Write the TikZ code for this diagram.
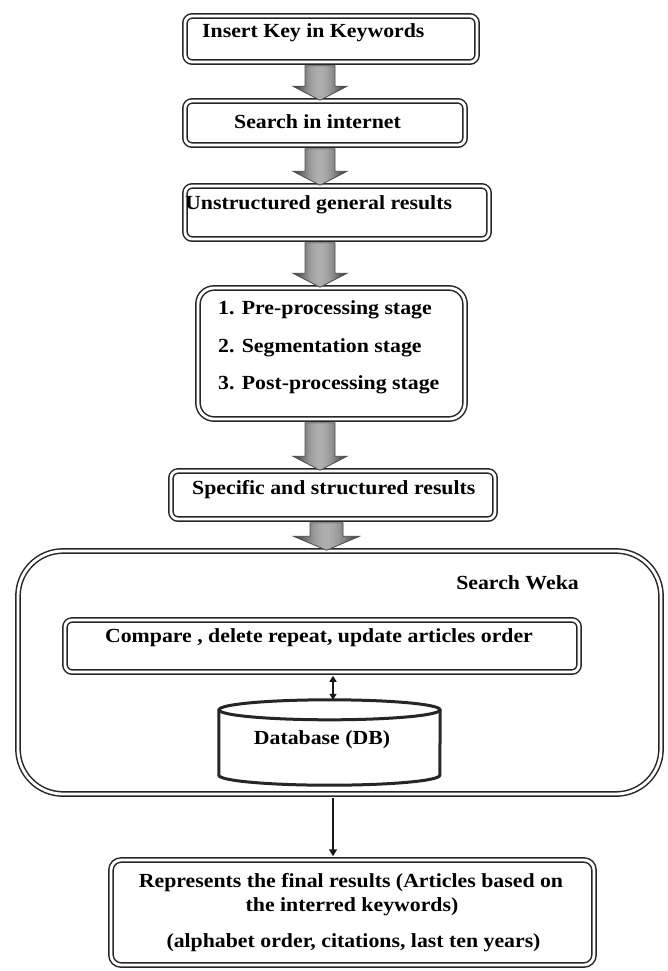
\documentclass[tikz,border=0pt]{standalone}
\usepackage{fontspec}
\setmainfont{Liberation Serif}[FakeStretch=1.09]
\usetikzlibrary{calc,arrows.meta}
\begin{document}
\begin{tikzpicture}[x=1pt,y=-1pt,
  dbox/.style={draw=black!85, double=white, double distance=2.8pt, line width=1.5pt, fill=white, inner sep=0pt, rounded corners=#1},
  dbox/.default=7pt,
  lbl/.style={font=\fontsize{20}{24}\selectfont\bfseries, inner sep=0pt, anchor=west},
  clbl/.style={font=\fontsize{20}{24}\selectfont\bfseries, inner sep=0pt},
  blkedge/.style={draw=black!70, line width=0.8pt},
  thin arrow/.style={line width=1.6pt, black!90},
  cyl/.style={line width=3pt, black!85},
]
\useasboundingbox (0,0) rectangle (668,971);
\newcommand\blkpath[5]{let \p1=(#1.south), \p2=(#2.north) in
    (#3-#4,\y1-3pt) -- (#3+#4,\y1-3pt) -- (#3+#4,\y2+14pt) -- (#3+#5,\y2+14pt)
    -- (#3,\y2) -- (#3-#5,\y2+14pt) -- (#3-#4,\y2+14pt) -- cycle}
\newcommand\blockarr[5]{%
  \begin{scope}
    \path[clip] \blkpath{#1}{#2}{#3}{#4}{#5};
    \foreach \i in {0,...,39}{%
      \pgfmathsetmacro\blkg{int(round(80-48*sin(180*\i/39)))}
      \fill[black!\blkg] ({#3-#5+\i*2*#5/40},0pt) rectangle ++({2*#5/40+0.6pt},-971pt);
    }
  \end{scope}
  \path[blkedge] \blkpath{#1}{#2}{#3}{#4}{#5};}

% boxes
\node[dbox, minimum width=292pt, minimum height=46pt] (b1) at (331,39) {};
\node[dbox, minimum width=280pt, minimum height=44pt] (b2) at (325,123) {};
\node[dbox, minimum width=304pt, minimum height=53pt] (b3) at (337,212.5) {};
\node[dbox=16pt, minimum width=267pt, minimum height=131pt] (b4) at (331.5,353.5) {};
\node[dbox, minimum width=324pt, minimum height=48pt] (b5) at (333,495) {};
\node[dbox=45pt, minimum width=643pt, minimum height=243pt] (outer) at (339.5,672.5) {};
\node[dbox, minimum width=514pt, minimum height=52pt] (cmp) at (322,646) {};
\node[dbox=10pt, minimum width=483pt, minimum height=105pt] (fin) at (352.5,912.5) {};

% texts
\node[lbl] (t1) at (202,33) {Insert Key in Keywords};
\node[clbl] (t2) at (317.5,122) {Search in internet};
\node[lbl] (t3) at (185,205) {Unstructured general results};
\node[lbl] (t4a) at (218,310) {1. Pre-processing stage};
\node[lbl] (t4b) at (218,348) {2. Segmentation stage};
\node[lbl] (t4c) at (218,385) {3. Post-processing stage};
\node[lbl] (t5) at (192,490) {Specific and structured results};
\node[clbl, anchor=east] (tw) at (579,583) {Search Weka};
\node[clbl] (tc) at (319,638) {Compare , delete repeat, update articles order};
\node[clbl] (tf1) at (351,883) {Represents the final results (Articles based on};
\node[clbl] (tf2) at (352,907) {the interred keywords)};
\node[clbl] (tf3) at (353.5,943) {(alphabet order, citations, last ten years)};

% database cylinder
\node[minimum width=221pt, minimum height=85pt, inner sep=0pt] (db) at (329.5,742.5) {};
\draw[cyl, fill=white] ([yshift=-10pt]db.north west) -- ([yshift=10pt]db.south west)
  arc[start angle=180, end angle=360, x radius=110.5pt, y radius=10pt]
  -- ([yshift=-10pt]db.north east);
\draw[cyl] ([yshift=-10pt]db.north) ellipse [x radius=110.5pt, y radius=10pt];
\node[clbl] (tdb) at (322,740) {Database (DB)};

% block arrows
\blockarr{b1}{b2}{320pt}{15pt}{27pt}
\blockarr{b2}{b3}{320pt}{15pt}{27pt}
\blockarr{b3}{b4}{320pt}{15pt}{27pt}
\blockarr{b4}{b5}{320pt}{15pt}{27pt}
\blockarr{b5}{outer}{326.5pt}{16.5pt}{33pt}

% thin arrows
\coordinate (ax) at (333,0);
\draw[thin arrow, {Triangle[length=6pt,width=7pt]}-{Triangle[length=6pt,width=7pt]}]
  ([yshift=-3pt]cmp.south -| ax) -- (db.north -| ax);
\draw[thin arrow, -{Triangle[length=7pt,width=8pt]}]
  ([yshift=-3pt]outer.south -| ax) -- ([yshift=3pt]fin.north -| ax);
\end{tikzpicture}
\end{document}
